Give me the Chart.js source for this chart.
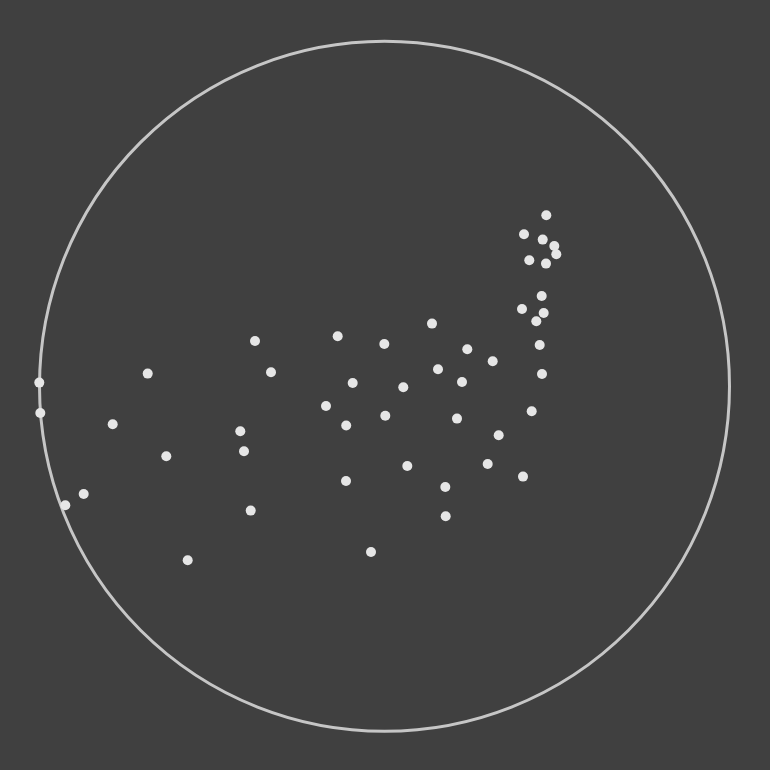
<!DOCTYPE html>
<html>
<head>
<meta charset="utf-8">
<script src="https://cdn.jsdelivr.net/npm/chart.js@4"></script>
<style>
  html, body { margin: 0; padding: 0; background: #404040; }
  canvas { display: block; }
</style>
</head>
<body>
<canvas id="c" width="770" height="770"></canvas>
<script>
// Point positions (circle centred at 0,0 with radius 345)
const xValues = [161.8, 139.5, 158.2, 169.8, 171.8, 144.8, 161.5, 157.2, 137.5, 159.2, 151.8,
  47.5, -46.8, -129.5, -0.2, 155.2, 82.8, 108.2, 53.5, -113.5, -236.8, 157.5,
  -345.2, -31.8, 77.5, 18.8, -58.5, 147.2, -344.2, 0.8, 72.5, -271.8, -38.3,
  -144.2, 114.2, -140.5, -218.2, 103.2, 22.8, 138.5, -38.5, 60.8, -300.8,
  -319.2, -133.8, 61.2, -13.5, -196.8];
const yValues = [171, 152, 146.7, 140.3, 132, 126, 122.7, 90.3, 77.3, 73.3, 65,
  62.7, 50, 45.3, 42.3, 41.3, 37, 25, 17, 14, 12.7, 12.3,
  3.7, 3.3, 4.3, -1, -19.7, -25, -26.7, -29.5, -32.3, -38, -39.2,
  -45, -49, -65, -70, -77.7, -79.7, -90.3, -94.7, -100.7, -107.7,
  -119, -124.3, -130, -165.7, -174];
const circleRadius = 345;

const points = xValues.map((x, i) => ({ x: x, y: yValues[i] }));

const circlePlugin = {
  id: 'circleBoundary',
  beforeDraw(chart) {
    const ctx = chart.ctx;
    ctx.save();
    ctx.fillStyle = '#404040';
    ctx.fillRect(0, 0, chart.width, chart.height);
    ctx.restore();
  },
  beforeDatasetsDraw(chart) {
    const xs = chart.scales.x, ys = chart.scales.y;
    const cx = xs.getPixelForValue(0);
    const cy = ys.getPixelForValue(0);
    const r = xs.getPixelForValue(circleRadius) - cx;
    const ctx = chart.ctx;
    ctx.save();
    ctx.beginPath();
    ctx.arc(cx, cy, r, 0, Math.PI * 2);
    ctx.strokeStyle = '#c6c6c6';
    ctx.lineWidth = 3;
    ctx.stroke();
    ctx.restore();
  }
};

new Chart(document.getElementById('c'), {
  type: 'scatter',
  data: {
    datasets: [{
      data: points,
      backgroundColor: '#e6e6e6',
      borderColor: '#e6e6e6',
      borderWidth: 0,
      pointRadius: 5,
      pointHoverRadius: 5,
      clip: false
    }]
  },
  options: {
    responsive: false,
    animation: false,
    devicePixelRatio: 1,
    layout: { padding: { left: 39.5, right: 40.5, top: 41.3, bottom: 38.7 } },
    plugins: { legend: { display: false }, tooltip: { enabled: false } },
    scales: {
      x: { type: 'linear', min: -345, max: 345, display: false },
      y: { type: 'linear', min: -345, max: 345, display: false }
    }
  },
  plugins: [circlePlugin]
});
</script>
</body>
</html>
